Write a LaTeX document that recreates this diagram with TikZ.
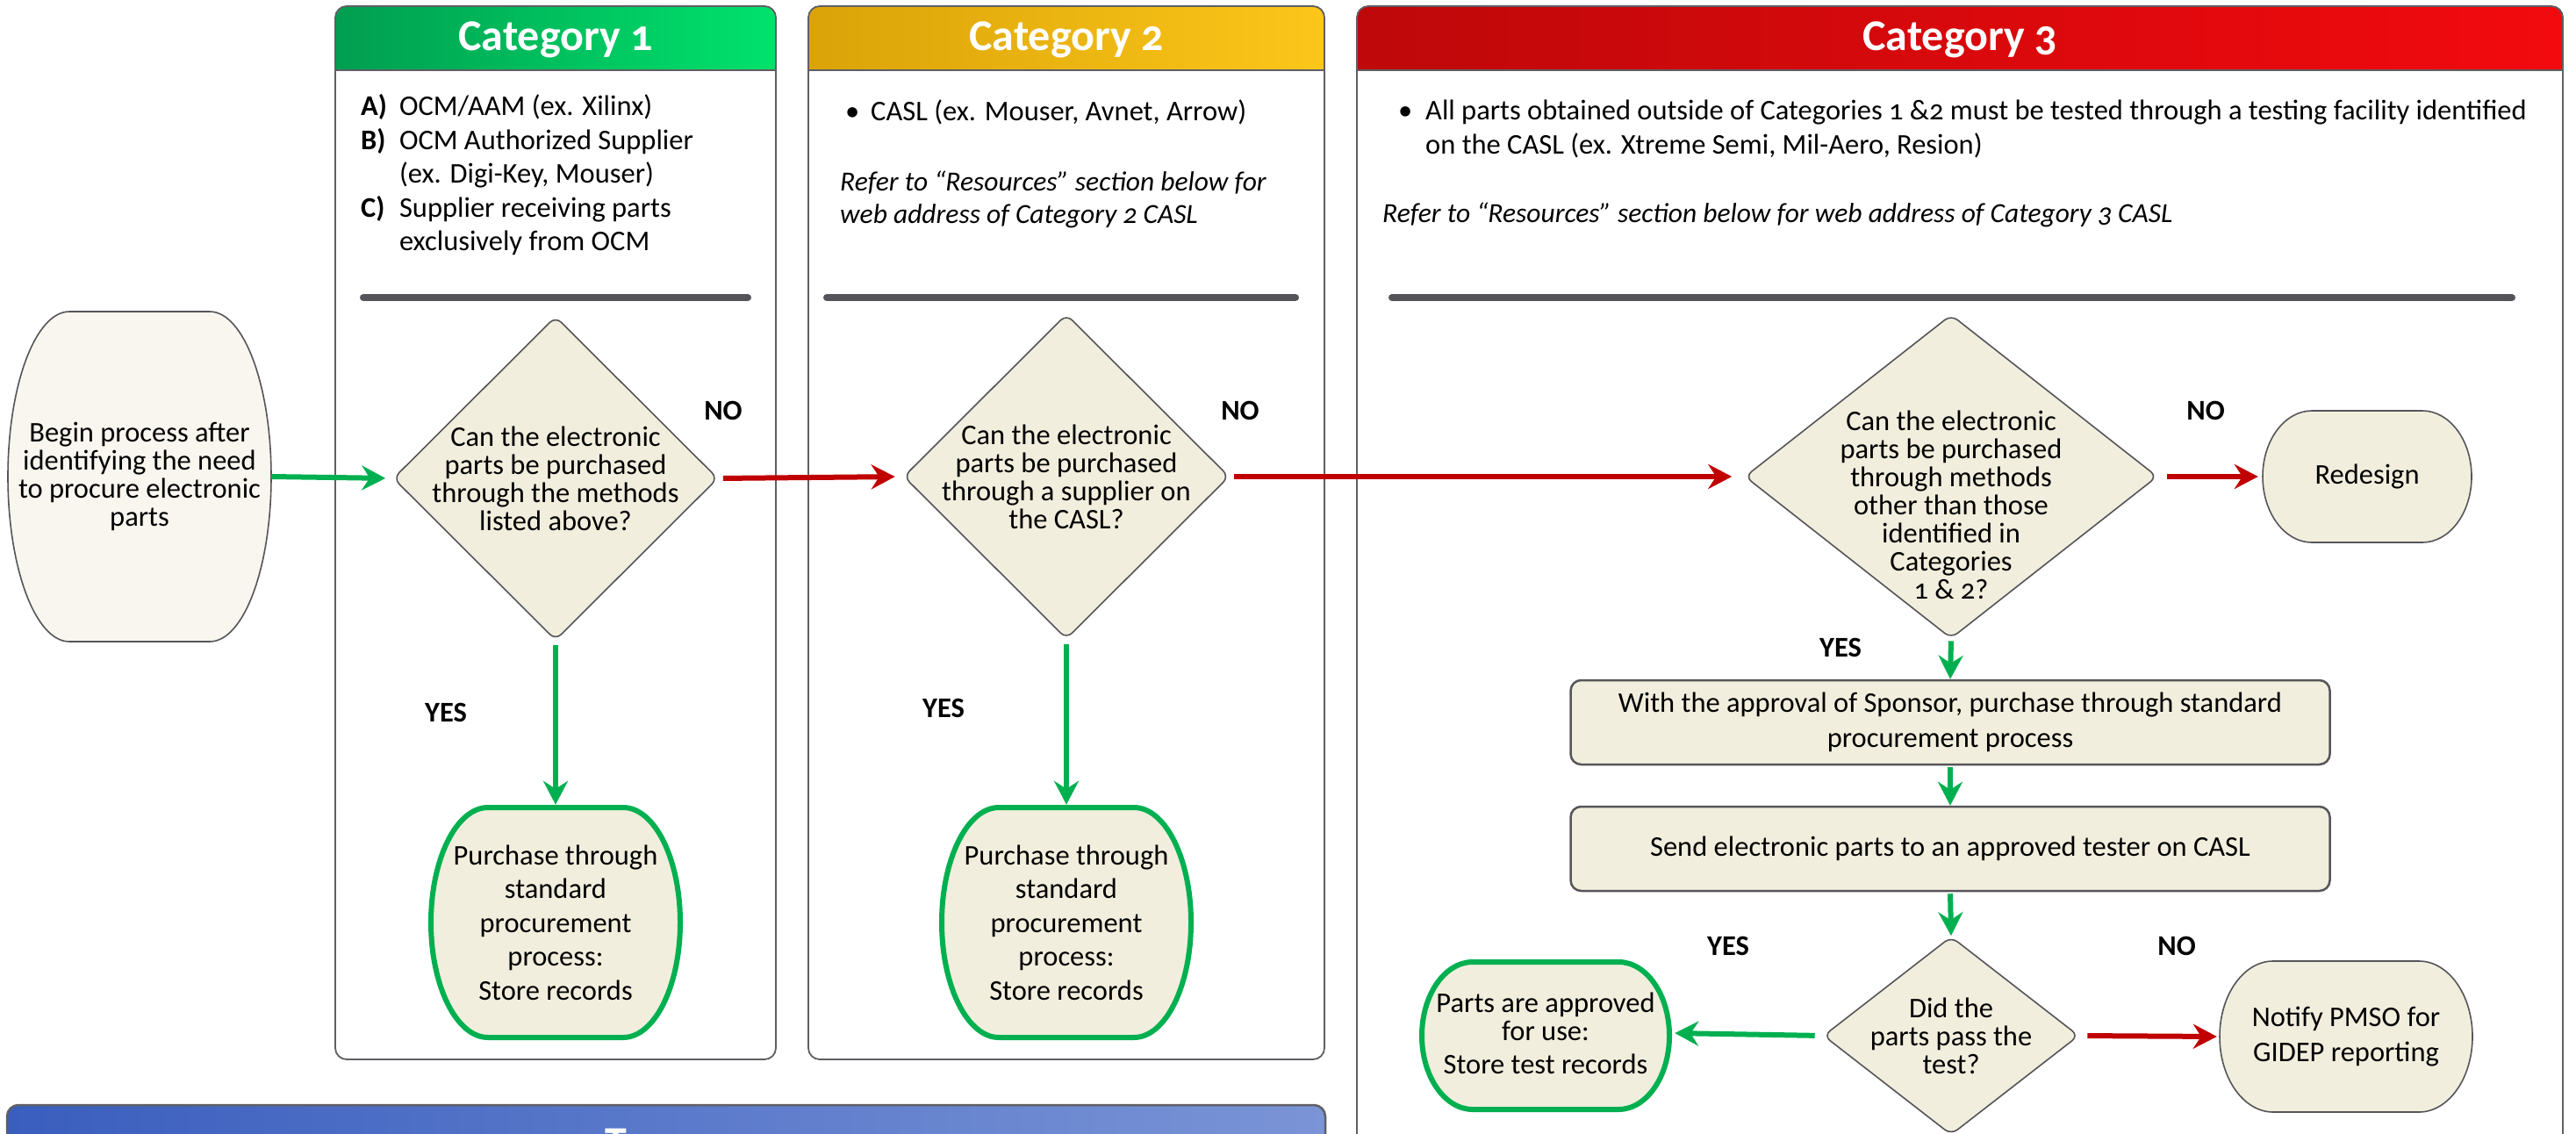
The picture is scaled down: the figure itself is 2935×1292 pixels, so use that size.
\documentclass[tikz,border=0pt]{standalone}
\usepackage{fontspec}
\setmainfont{Carlito}[Numbers=OldStyle]
\usetikzlibrary{arrows.meta,shapes.geometric}
\definecolor{cream}{RGB}{242,238,221}
\definecolor{creamlight}{RGB}{248,246,238}
\definecolor{shapegray}{RGB}{85,85,90}
\definecolor{panelgray}{RGB}{95,95,100}
\definecolor{bargray}{RGB}{85,84,90}
\definecolor{arrgreen}{RGB}{0,176,80}
\definecolor{arrred}{RGB}{192,0,0}
\definecolor{cAL}{RGB}{0,158,80}
\definecolor{cAR}{RGB}{0,226,108}
\definecolor{cBL}{RGB}{218,163,8}
\definecolor{cBR}{RGB}{252,198,26}
\definecolor{cCL}{RGB}{190,8,10}
\definecolor{cCR}{RGB}{242,10,14}
\definecolor{bnL}{RGB}{58,94,190}
\definecolor{bnR}{RGB}{122,148,214}
% #1 style, #2 cx, #3 cy, #4 half width, #5 half height, #6 flat half length
\newcommand\barrelshape[6]{%
\draw[#1] ({#2-#6},{#3-#5}) -- ({#2+#6},{#3-#5})
 .. controls ({#2+#6+0.552*(#4-#6)},{#3-#5}) and ({#2+#4},{#3-0.552*#5}) .. ({#2+#4},{#3})
 .. controls ({#2+#4},{#3+0.552*#5}) and ({#2+#6+0.552*(#4-#6)},{#3+#5}) .. ({#2+#6},{#3+#5})
 -- ({#2-#6},{#3+#5})
 .. controls ({#2-#6-0.552*(#4-#6)},{#3+#5}) and ({#2-#4},{#3+0.552*#5}) .. ({#2-#4},{#3})
 .. controls ({#2-#4},{#3-0.552*#5}) and ({#2-#6-0.552*(#4-#6)},{#3-#5}) .. cycle;}
\begin{document}
\begin{tikzpicture}[x=1pt,y=-1pt,
 panel/.style={draw=panelgray, line width=1.8pt, rounded corners=13pt},
 hdrline/.style={draw=panelgray, line width=2.2pt},
 sepbar/.style={draw=bargray, line width=8pt, line cap=round},
 title/.style={font=\fontsize{50}{52}\selectfont\bfseries, text=white, inner sep=0pt, anchor=base},
 t32/.style={font=\fontsize{32.5}{32}\selectfont, inner sep=0pt, align=center},
 t38/.style={font=\fontsize{32.5}{38.5}\selectfont, inner sep=0pt, align=center},
 t40/.style={font=\fontsize{32.5}{40}\selectfont, inner sep=0pt, align=center},
 lefttext/.style={font=\fontsize{32.5}{38.5}\selectfont, inner sep=0pt, anchor=base west, align=left},
 reftext/.style={font=\fontsize{31.5}{37}\selectfont\itshape, inner sep=0pt, anchor=base west, align=left},
 yn/.style={font=\fontsize{32.5}{32}\selectfont\bfseries, inner sep=0pt},
 dia/.style={diamond, draw=shapegray, line width=1.6pt, fill=cream, rounded corners=9pt, inner sep=0pt},
 procbox/.style={draw=shapegray, line width=2.5pt, fill=cream, rounded corners=12pt, inner sep=0pt},
 greybd/.style={draw=shapegray, line width=1.6pt, fill=cream},
 startbd/.style={draw=shapegray, line width=1.6pt, fill=creamlight},
 greenbd/.style={draw=arrgreen, line width=6pt, fill=cream},
 garrow/.style={draw=arrgreen, line width=6pt, -{Stealth[length=27pt,width=28pt,inset=9pt]}},
 rarrow/.style={draw=arrred, line width=6pt, -{Stealth[length=27pt,width=28pt,inset=9pt]}}
]
\useasboundingbox (0,0) rectangle (2935,1292);
\clip (0,0) rectangle (2935,1292);
\fill[white] (0,0) rectangle (2935,1292);

% ---------- panels ----------
\begin{scope}
\clip[rounded corners=13pt] (382,7) rectangle (884,1207);
\shade[left color=cAL, right color=cAR] (382,7) rectangle (884,80);
\end{scope}
\draw[panel] (382,7) rectangle (884,1207);
\draw[hdrline] (382,80) -- (884,80);

\begin{scope}
\clip[rounded corners=13pt] (921,7) rectangle (1509,1207);
\shade[left color=cBL, right color=cBR] (921,7) rectangle (1509,80);
\end{scope}
\draw[panel] (921,7) rectangle (1509,1207);
\draw[hdrline] (921,80) -- (1509,80);

\begin{scope}
\clip[rounded corners=13pt] (1546,7) rectangle (2920,1340);
\shade[left color=cCL, right color=cCR] (1546,7) rectangle (2920,80);
\end{scope}
\draw[panel] (1546,7) rectangle (2920,1340);
\draw[hdrline] (1546,80) -- (2920,80);

% bottom banner
\begin{scope}
\clip[rounded corners=14pt] (8,1259) rectangle (1510,1360);
\shade[left color=bnL, right color=bnR] (8,1259) rectangle (1510,1360);
\end{scope}
\draw[panel, line width=2.5pt] (8,1259) rectangle (1510,1360);
\node[title, anchor=base west] (bt) at (689,1318) {T};

% titles
\node[title] (h1) at (633,58) {Category 1};
\node[title] (h2) at (1215,58) {Category 2};
\node[title] (h3) at (2233,58) {Category 3};

% panel texts
\node[lefttext] (l1) at (411,132) {\begin{tabular}[t]{@{}l@{\hspace{14pt}}l@{}}
\textbf{A)} & OCM/AAM (ex. Xilinx)\\
\textbf{B)} & OCM Authorized Supplier\\
 & (ex. Digi-Key, Mouser)\\
\textbf{C)} & Supplier receiving parts\\
 & exclusively from OCM
\end{tabular}};
\node[lefttext] (l2) at (963,138) {\makebox[29pt][l]{\textbullet}CASL (ex. Mouser, Avnet, Arrow)};
\node[reftext] (r2) at (957,254) {Refer to ``Resources'' section below for\\web address of Category 2 CASL};
\node[lefttext] (l3) at (1593,137) {\begin{tabular}[t]{@{}p{31pt}@{}l@{}}
\textbullet & All parts obtained outside of Categories 1 \&2 must be tested through a testing facility identified\\
 & on the CASL (ex. Xtreme Semi, Mil-Aero, Resion)
\end{tabular}};
\node[reftext] (r3) at (1575,253) {Refer to ``Resources'' section below for web address of Category 3 CASL};

\draw[sepbar] (414,339) -- (852,339);
\draw[sepbar] (942,339) -- (1476,339);
\draw[sepbar] (1586,339) -- (2862,339);

% ---------- shapes ----------
\barrelshape{startbd}{159}{543}{150}{188}{80}
\node[t32, minimum width=300pt, minimum height=376pt] (start) at (159,543) {Begin process after\\identifying the need\\to procure electronic\\parts};

\node[dia, minimum width=370pt, minimum height=369pt] (d1) at (633,545) {};
\node[t32] (d1t) at (633,545) {Can the electronic\\parts be purchased\\through the methods\\listed above?};

\node[dia, minimum width=371pt, minimum height=370pt] (d2) at (1215,543) {};
\node[t32] (d2t) at (1215,543) {Can the electronic\\parts be purchased\\through a supplier on\\the CASL?};

\node[dia, minimum width=470pt, minimum height=369pt] (d3) at (2223,543) {};
\node[t32] (d3t) at (2223,575) {Can the electronic\\parts be purchased\\through methods\\other than those\\identified in\\Categories\\1 \& 2?};

\barrelshape{greybd}{2697}{543}{119}{75}{63}
\node[t32, minimum width=238pt, minimum height=150pt] (rd) at (2697,543) {Redesign};

\barrelshape{greenbd}{633}{1051}{142}{131}{77}
\node[t38, minimum width=290pt, minimum height=268pt] (p1) at (633,1051) {Purchase through\\standard\\procurement\\process:\\Store records};

\barrelshape{greenbd}{1215}{1051}{142}{131}{77}
\node[t38, minimum width=290pt, minimum height=268pt] (p2) at (1215,1051) {Purchase through\\standard\\procurement\\process:\\Store records};

\node[procbox, t40, minimum width=865pt, minimum height=96pt] (bx1) at (2222,823) {With the approval of Sponsor, purchase through standard\\procurement process};
\node[procbox, t40, minimum width=865pt, minimum height=96pt] (bx2) at (2222,967) {Send electronic parts to an approved tester on CASL};

\node[dia, minimum width=291pt, minimum height=226pt] (d4) at (2223,1180) {};
\node[t32] (d4t) at (2223,1180) {Did the\\parts pass the\\test?};

\barrelshape{greenbd}{1761}{1180}{141}{84}{83}
\node[t32, minimum width=288pt, minimum height=174pt] (pa) at (1761,1177) {Parts are approved\\for use:\\[6pt]Store test records};

\barrelshape{greybd}{2673}{1181}{144}{86}{83}
\node[t40, minimum width=288pt, minimum height=172pt] (nt) at (2673,1181) {Notify PMSO for\\GIDEP reporting};

% ---------- labels ----------
\node[yn] (no1) at (824,468) {NO};
\node[yn] (no2) at (1413,468) {NO};
\node[yn] (no3) at (2513,468) {NO};
\node[yn] (no4) at (2480,1078) {NO};
\node[yn] (yes1) at (508,812) {YES};
\node[yn] (yes2) at (1075,807) {YES};
\node[yn] (yes3) at (2097,738) {YES};
\node[yn] (yes4) at (1969,1078) {YES};

% ---------- connectors ----------
\draw[garrow, shorten >=8pt] (start.east) -- (d1.west);
\draw[rarrow, shorten <=5pt, shorten >=9pt] (d1.east) -- (d2.west);
\draw[rarrow, shorten <=5pt, shorten >=14pt] (d2.east) -- (d3.west);
\draw[garrow, shorten <=5pt] (d1.south) -- (p1.north);
\draw[garrow, shorten <=5pt] (d2.south) -- (p2.north);
\draw[rarrow, shorten <=10pt, shorten >=5pt] (d3.east) -- (rd.west);
\draw[garrow, shorten <=2pt] (d3.south) -- (bx1.north);
\draw[garrow, shorten <=2pt] (bx1.south) -- (bx2.north);
\draw[garrow, shorten <=2pt] (bx2.south) -- (d4.north);
\draw[garrow, shorten <=9pt, shorten >=3pt] (d4.west) -- (pa.east);
\draw[rarrow, shorten <=9pt, shorten >=3pt] (d4.east) -- (nt.west);
\end{tikzpicture}
\end{document}
